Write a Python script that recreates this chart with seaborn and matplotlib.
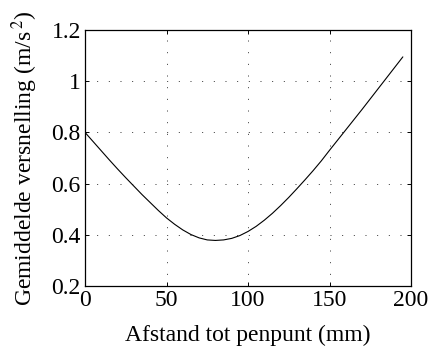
import matplotlib
matplotlib.use("Agg")
import matplotlib.pyplot as plt
import seaborn as sns
import pandas as pd

# Data
afstand_mm = [0, 5, 10, 15, 20, 25, 30, 35, 40, 45, 50, 55, 60, 65, 70, 75, 80,
              85, 90, 95, 100, 105, 110, 115, 120, 125, 130, 135, 140, 145, 150,
              155, 160, 165, 170, 175, 180, 185, 190, 195]
versnelling = [0.800, 0.764, 0.728, 0.692, 0.657, 0.623, 0.590, 0.557, 0.526,
               0.495, 0.466, 0.441, 0.419, 0.401, 0.388, 0.380, 0.378, 0.380,
               0.386, 0.397, 0.413, 0.433, 0.457, 0.484, 0.514, 0.546, 0.580,
               0.615, 0.651, 0.689, 0.730, 0.770, 0.810, 0.850, 0.890, 0.931,
               0.972, 1.013, 1.054, 1.095]
x_ticks = [0, 50, 100, 150, 200]
y_ticks = [0.2, 0.4, 0.6, 0.8, 1.0, 1.2]
y_tick_labels = ["0.2", "0.4", "0.6", "0.8", "1", "1.2"]
x_label = "Afstand tot penpunt (mm)"
y_label = r"Gemiddelde versnelling (m/s$\,^{2}$)"

df = pd.DataFrame({"afstand": afstand_mm, "a": versnelling})

sns.set_theme(style="ticks")
plt.rcParams["font.family"] = ["Liberation Serif", "DejaVu Serif"]
plt.rcParams["mathtext.fontset"] = "stix"

fig = plt.figure(figsize=(4.3, 3.49), dpi=100)
ax = fig.add_axes([85 / 430, 1 - 286 / 349, (411 - 85) / 430, (286 - 30) / 349])

sns.lineplot(data=df, x="afstand", y="a", ax=ax, color="black", linewidth=0.8)

ax.set_xlim(0, 200)
ax.set_ylim(0.2, 1.2)
ax.set_xticks(x_ticks)
ax.set_xticklabels([str(t) for t in x_ticks])
ax.set_yticks(y_ticks)
ax.set_yticklabels(y_tick_labels)

ax.grid(True, linestyle=(0, (1, 11)), color="#333333", linewidth=0.7)
for s in ax.spines.values():
    s.set_visible(True)
    s.set_color("black")
    s.set_linewidth(0.9)

ax.tick_params(direction="in", length=3, width=0.7, top=True, right=True,
               labelsize=17, colors="black", pad=3)
ax.set_xlabel(x_label, fontsize=17, color="black", labelpad=10)
ax.set_ylabel(y_label, fontsize=17, color="black", labelpad=8)

fig.savefig("out.png", dpi=100, facecolor="white")
